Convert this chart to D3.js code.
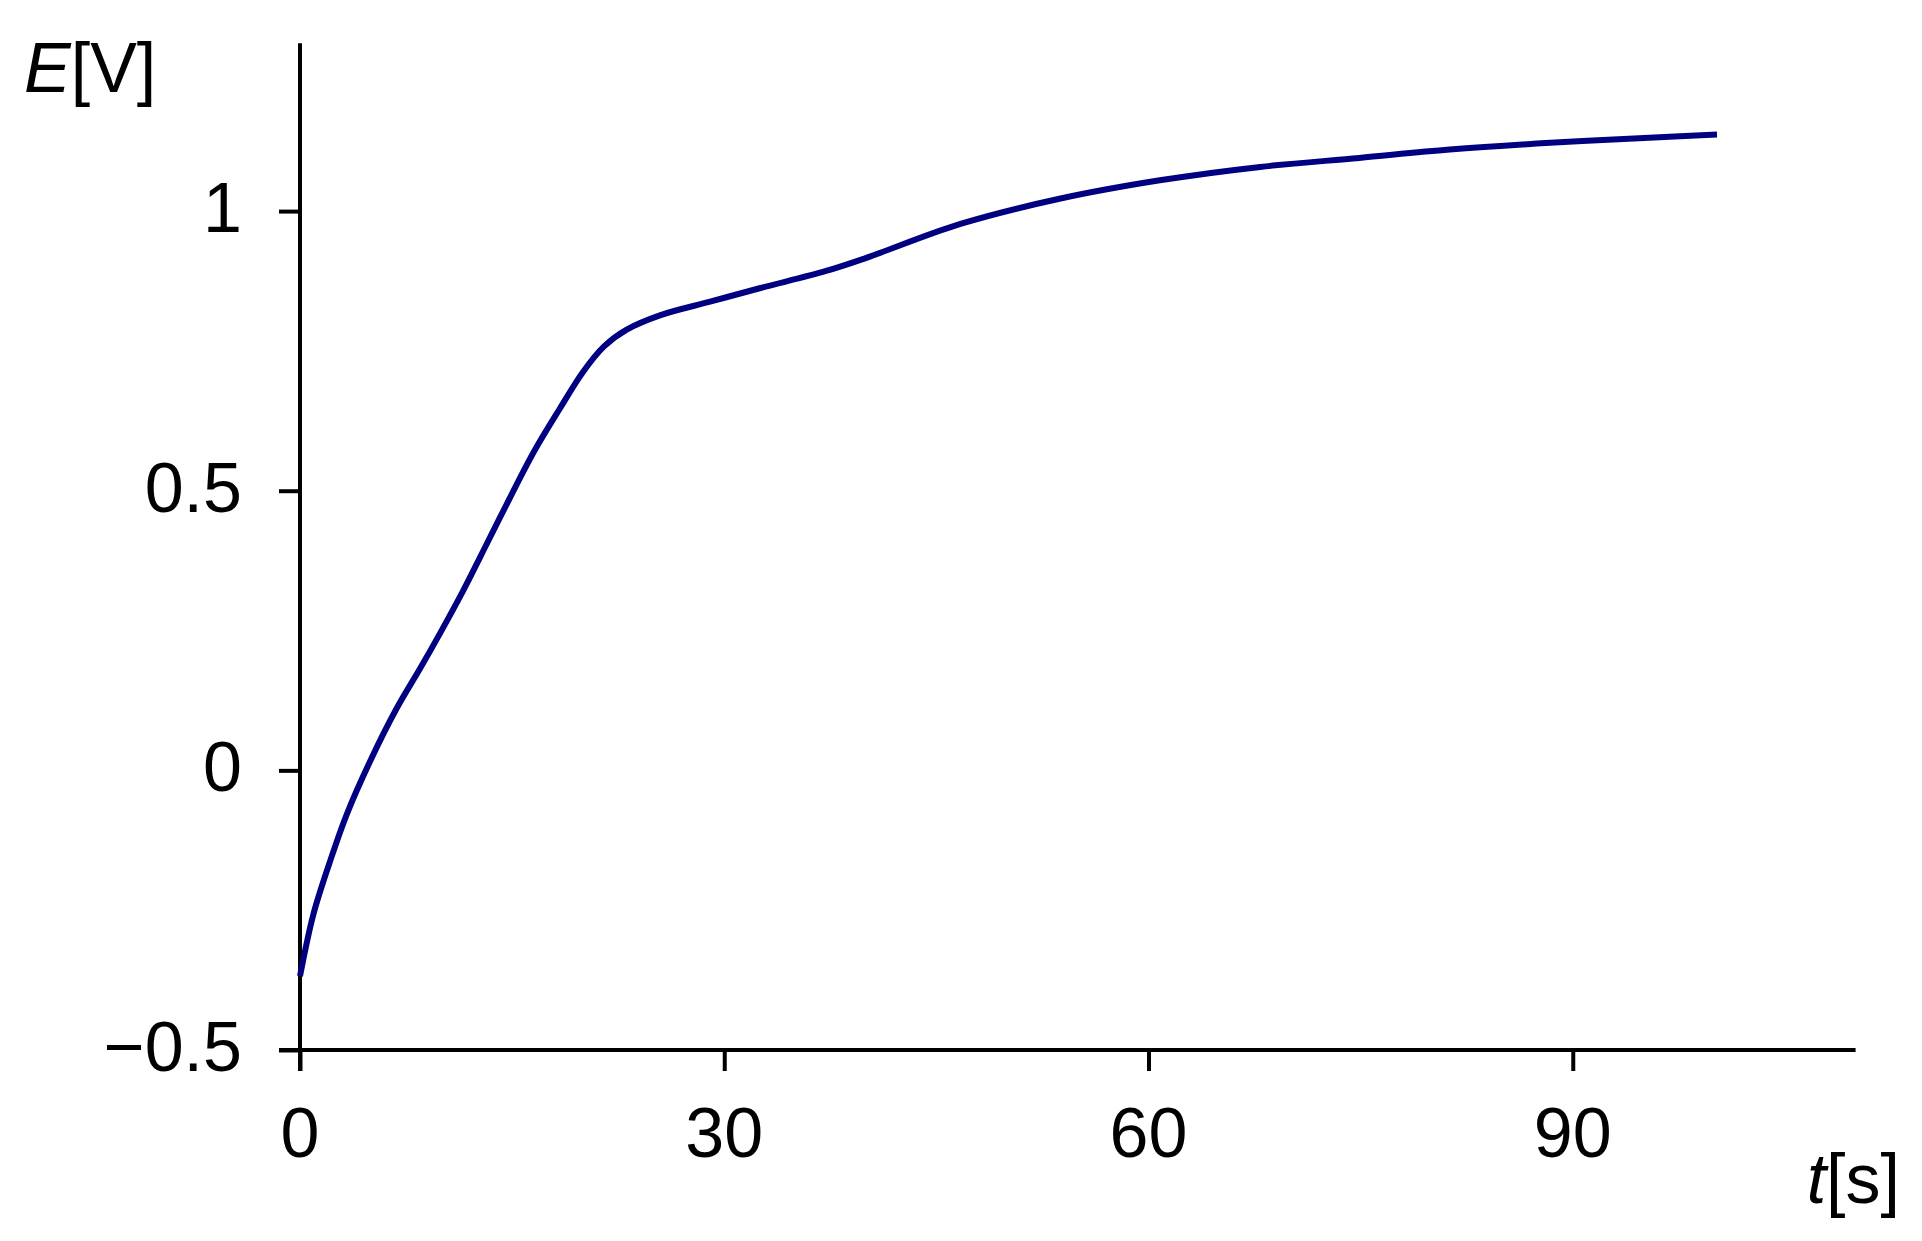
<!DOCTYPE html>
<html>
<head>
<meta charset="utf-8">
<script src="https://cdn.jsdelivr.net/npm/d3@7"></script>
<style>
  html, body { margin: 0; padding: 0; background: #fff; }
  svg { display: block; }
  text { font-family: "Liberation Sans", Arial, sans-serif; fill: #000; }
</style>
</head>
<body>
<svg id="chart" width="1922" height="1241"></svg>
<script>
// Data
const timeS = [0, 0.94, 2.12, 3.3, 4.95, 6.84, 8.49, 9.9, 11.55, 12.73, 14.1, 16.5, 18.4, 20.0, 21.5, 23.1, 25.5, 29.0, 32.5, 37.2, 40.0, 46.7, 53.7, 60.8, 67.9, 74.9, 81.3, 88.4, 95.4, 100.2];
const voltageV = [-0.368, -0.258, -0.163, -0.079, 0.016, 0.111, 0.182, 0.245, 0.322, 0.381, 0.450, 0.568, 0.648, 0.712, 0.758, 0.788, 0.814, 0.838, 0.862, 0.893, 0.916, 0.977, 1.022, 1.055, 1.079, 1.095, 1.110, 1.122, 1.131, 1.137];
const xTicks = [0, 30, 60, 90];
const yTicks = [-0.5, 0, 0.5, 1];

const svg = d3.select("#chart");
const x = d3.scaleLinear().domain([0, 110]).range([300, 1855.6]);
const y = d3.scaleLinear().domain([-0.5, 1.3]).range([1050, 43.3]);

const x0 = x(0), yBase = y(-0.5);
const axisW = 4, tickLen = 21;

// Y axis ticks
const yAxis = svg.append("g").attr("transform", `translate(${x0},0)`)
  .call(d3.axisLeft(y).tickValues(yTicks).tickSize(tickLen).tickFormat(() => ""));
// X axis ticks
const xAxis = svg.append("g").attr("transform", `translate(0,${yBase})`)
  .call(d3.axisBottom(x).tickValues(xTicks).tickSize(tickLen).tickFormat(() => ""));

[yAxis, xAxis].forEach(g => {
  g.selectAll(".domain").remove();
  g.selectAll(".tick line").attr("stroke", "#000").attr("stroke-width", axisW);
});

// axis lines
svg.append("line").attr("x1", x0).attr("x2", x0).attr("y1", y(1.3)).attr("y2", yBase + tickLen)
  .attr("stroke", "#000").attr("stroke-width", axisW);
svg.append("line").attr("x1", x0 - tickLen).attr("x2", x(110)).attr("y1", yBase).attr("y2", yBase)
  .attr("stroke", "#000").attr("stroke-width", axisW);

// Tick labels
const fmtY = v => v < 0 ? "\u2212" + Math.abs(v) : String(v);
svg.append("g").selectAll("text").data(yTicks).join("text")
  .attr("x", 242).attr("y", d => y(d) + 21)
  .attr("text-anchor", "end").attr("font-size", 70)
  .text(fmtY);
svg.append("g").selectAll("text").data(xTicks).join("text")
  .attr("x", d => x(d)).attr("y", yBase + 107)
  .attr("text-anchor", "middle").attr("font-size", 70)
  .text(d => String(d));

// Axis titles
const yt = svg.append("text").attr("x", 24).attr("y", 92).attr("font-size", 70);
yt.append("tspan").attr("font-style", "italic").text("E");
yt.append("tspan").text("[V]");
const xt = svg.append("text").attr("x", 1900).attr("y", 1203).attr("font-size", 70).attr("text-anchor", "end");
xt.append("tspan").attr("font-style", "italic").text("t");
xt.append("tspan").text("[s]");

// Curve
const pts = timeS.map((t, i) => [t, voltageV[i]]);
svg.append("path").datum(pts)
  .attr("fill", "none").attr("stroke", "#000080").attr("stroke-width", 6)
  .attr("stroke-linejoin", "round")
  .attr("d", d3.line().x(d => x(d[0])).y(d => y(d[1])).curve(d3.curveCatmullRom.alpha(0.5)));
</script>
</body>
</html>
